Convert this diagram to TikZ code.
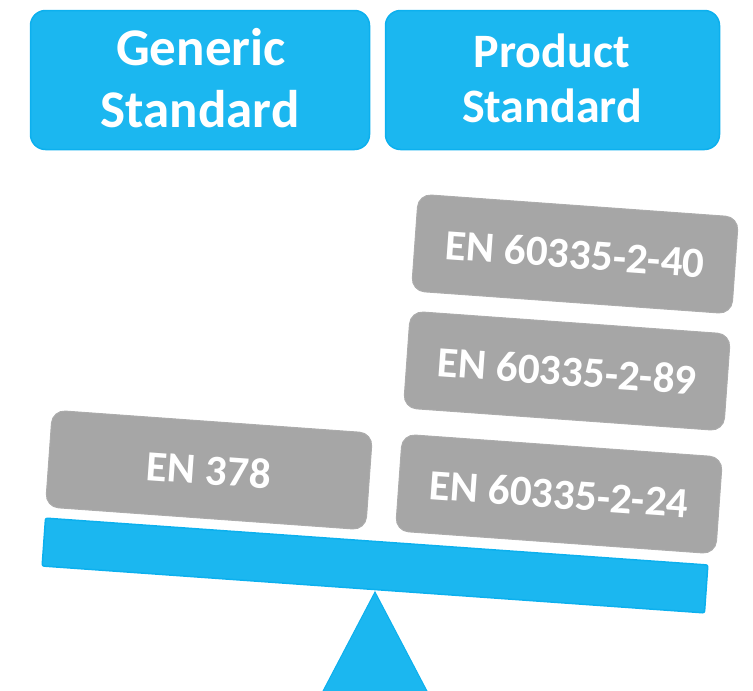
\documentclass[tikz,border=0pt]{standalone}
\usepackage{fontspec}
\setmainfont{Carlito}
\definecolor{bluefill}{RGB}{27,183,240}
\definecolor{blueedge}{RGB}{12,176,238}
\definecolor{grayfill}{RGB}{166,166,166}
\definecolor{grayedge}{RGB}{172,172,172}
\begin{document}
\begin{tikzpicture}[x=1pt,y=-1pt,
  bluebox/.style={draw=blueedge,fill=bluefill,line width=1.5pt,rounded corners=15pt,inner sep=0pt},
  graybox/.style={draw=grayedge,fill=grayfill,line width=1pt,rounded corners=13pt,inner sep=0pt,
    minimum width=321pt,minimum height=97pt,rotate=-4.1,text=white,
    font=\bfseries\fontsize{43}{50}\selectfont},
  bluetext/.style={text=white,anchor=base,inner sep=0pt,font=\bfseries\fontsize{#1}{#1}\selectfont}]
\useasboundingbox (0,0) rectangle (753,691);
% fulcrum
\fill[bluefill,draw=blueedge,line width=1pt] (322,693) -- (375,592) -- (428,693) -- cycle;
% beam
\node[draw=blueedge,fill=bluefill,line width=1.5pt,rounded corners=2pt,inner sep=0pt,
  minimum width=664pt,minimum height=48pt,rotate=-4.05] (beam) at (375,565.5) {};
% top boxes
\node[bluebox,minimum width=339pt,minimum height=139pt] (generic) at (200,80) {};
\node[bluebox,minimum width=334pt,minimum height=139pt] (product) at (552.5,80) {};
\node[bluetext=53] (g1) at (201,65) {Generic};
\node[bluetext=53] (g2) at (200,127) {Standard};
\node[bluetext=48] (p1) at (552,67) {Product};
\node[bluetext=48] (p2) at (552,122) {Standard};
% weights
\node[graybox] (en378) at (209,470) {EN 378};
\node[graybox] (en40) at (575,254) {EN 60335-2-40};
\node[graybox] (en89) at (567,371) {EN 60335-2-89};
\node[graybox] (en24) at (559,494) {EN 60335-2-24};
\end{tikzpicture}
\end{document}
